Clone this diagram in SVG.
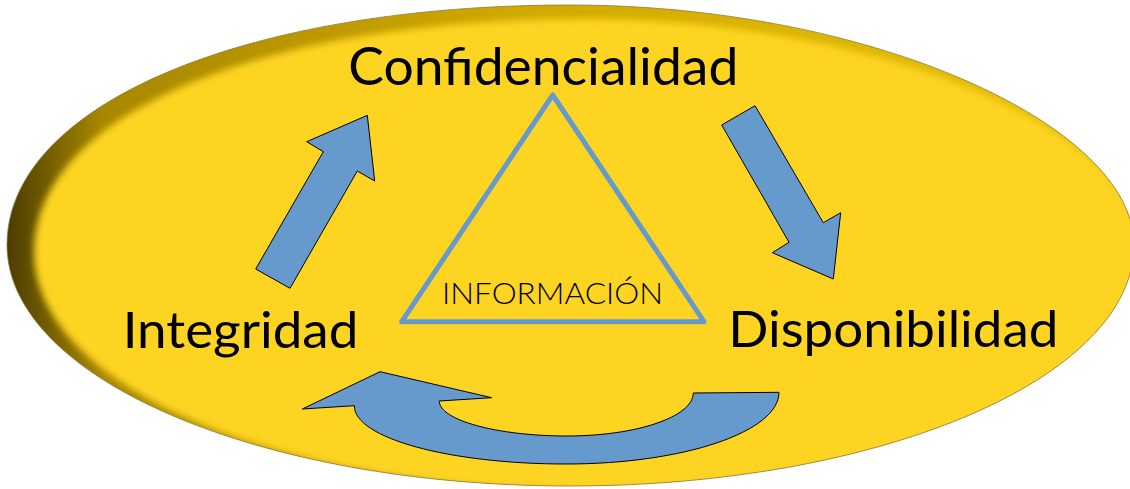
<svg xmlns="http://www.w3.org/2000/svg" width="1130" height="489" viewBox="0 0 1130 489">
  <defs>
    <linearGradient id="rim" x1="0" y1="0" x2="1" y2="0">
      <stop offset="0" stop-color="#453600"/>
      <stop offset="0.03" stop-color="#665200"/>
      <stop offset="0.09" stop-color="#a88700"/>
      <stop offset="0.45" stop-color="#cfa800"/>
      <stop offset="1" stop-color="#e8c208"/>
    </linearGradient>
    <clipPath id="outerClip">
      <path d="M 7 245 C 7 105, 245 5, 570 5 C 870 5, 1134 125, 1134 245 C 1134 378, 881 486, 570 486 C 259 486, 7 378, 7 245 Z"/>
    </clipPath>
    <filter id="soft" x="-5%" y="-5%" width="110%" height="110%">
      <feGaussianBlur stdDeviation="3.5"/>
    </filter>
    <style>
      .arrow { fill: #6699cc; stroke: #000; stroke-width: 1; stroke-linejoin: miter; }
      .label { font-family: Lato, "Open Sans", "Liberation Sans", sans-serif; fill: #000; text-anchor: middle; }
    </style>
  </defs>

  <g id="base">
    <g clip-path="url(#outerClip)">
      <rect x="0" y="0" width="1130" height="489" fill="url(#rim)"/>
      <path filter="url(#soft)" fill="#fdd422" d="M 34 252 C 34 112, 268 19, 585 19 C 880 19, 1142 132, 1142 252 C 1142 385, 885 490, 582 490 C 275 490, 34 385, 34 252 Z"/>
    </g>
    <path d="M 7 245 C 7 105, 245 5, 570 5 C 870 5, 1134 125, 1134 245 C 1134 378, 881 486, 570 486 C 259 486, 7 378, 7 245 Z" fill="none" stroke="#8c7a3a" stroke-width="0.8"/>
  </g>

  <g id="connectors">
    <polygon class="arrow" points="255.7,269 323.3,151.7 306.7,141.7 367.3,115.3 374.7,181 357.3,171 290,288.3"/>
    <polygon class="arrow" points="721.7,125 755,105.7 823.3,222.7 840.7,212.7 833.3,279 772.3,252.7 789,242.3"/>
    <path class="arrow" d="M 302.3 409 L 380 371.7 L 491.7 397.7 L 439.3 401 C 439 420 497 436 567 436 C 636 436 693 417 693.3 393 L 779 392.3 C 779 432 683 464 566 464 C 449 464 354 438 354.3 405.7 Z"/>
  </g>

  <g id="informacion">
    <polygon points="552.7,95 401.7,321.7 704,321.7" fill="none" stroke="#6699cc" stroke-width="5" stroke-linejoin="round"/>
    <text class="label" x="552.5" y="304" font-size="30" font-weight="300" textLength="221" lengthAdjust="spacingAndGlyphs" fill="#1a1a1a">INFORMACIÓN</text>
  </g>

  <g id="confidencialidad">
    <text class="label" x="543.3" y="85" font-size="52" textLength="390" lengthAdjust="spacingAndGlyphs">Confidencialidad</text>
  </g>

  <g id="integridad">
    <text class="label" x="240.5" y="348.3" font-size="50" textLength="235.7" lengthAdjust="spacingAndGlyphs">Integridad</text>
  </g>

  <g id="disponibilidad">
    <text class="label" x="893.3" y="346.7" font-size="50" textLength="330" lengthAdjust="spacingAndGlyphs">Disponibilidad</text>
  </g>
</svg>
